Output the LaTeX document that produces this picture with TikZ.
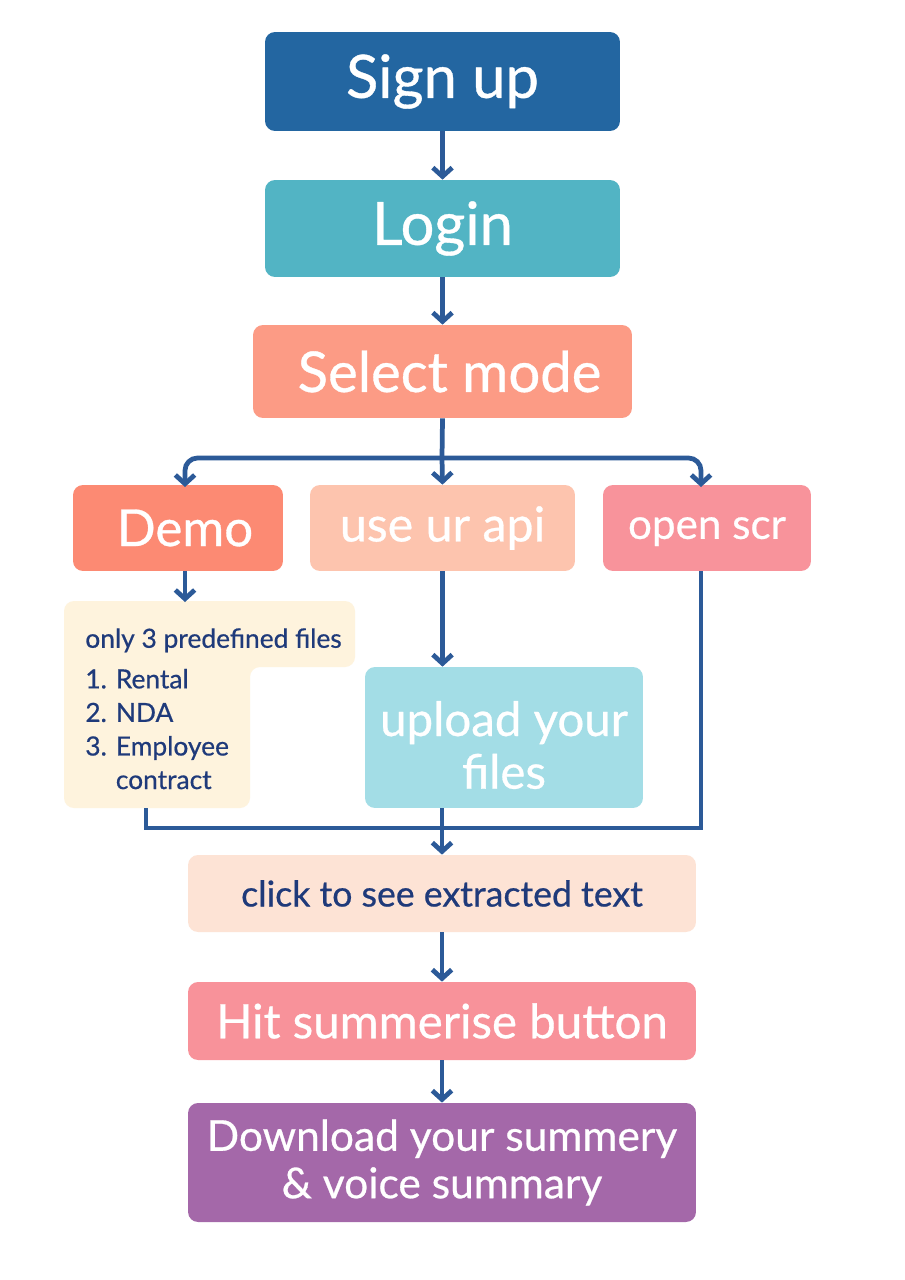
\documentclass[tikz,border=0pt]{standalone}
\usepackage{fontspec}
\setmainfont{Lato}[FakeBold=0.6]
\usetikzlibrary{arrows.meta}

\definecolor{lineblue}{HTML}{2C5A98}
\definecolor{navy}{HTML}{1F3A7A}
\definecolor{signupblue}{HTML}{2366A1}
\definecolor{logincyan}{HTML}{52B4C4}
\definecolor{modesalmon}{HTML}{FC9B85}
\definecolor{demored}{HTML}{FC8A73}
\definecolor{apipeach}{HTML}{FDC4AE}
\definecolor{scrpink}{HTML}{F8939B}
\definecolor{notecream}{HTML}{FEF3DD}
\definecolor{uploadcyan}{HTML}{A3DDE6}
\definecolor{clickpeach}{HTML}{FDE3D5}
\definecolor{hitpink}{HTML}{F8929A}
\definecolor{dlpurple}{HTML}{A468A9}

\newcommand{\fs}[1]{\fontsize{#1}{1.2\dimexpr#1pt\relax}\selectfont}

\begin{document}
\begin{tikzpicture}[x=0.02cm, y=-0.02cm,
  box/.style={rounded corners=0.2cm, inner sep=0pt, align=center, text=white},
  flow/.style={draw=lineblue, line width=2.7pt, -{Straight Barb[length=5pt,width=11pt,line width=2.7pt]}},
  link/.style={draw=lineblue, line width=2.7pt}]

  \useasboundingbox[fill=white] (0,0) rectangle (904,1280);

  % Top of the flow
  \node[box, fill=signupblue, minimum width=7.1cm, minimum height=1.98cm, font=\fs{34}] (signup) at (442.5,81.5) {Sign up};
  \node[box, fill=logincyan, minimum width=7.1cm, minimum height=1.94cm, font=\fs{34}] (login) at (442.5,228.5) {Login};
  \node[box, fill=modesalmon, minimum width=7.58cm, minimum height=1.86cm, font=\fs{32}] (mode) at (442.5,371.5) {\hspace{8pt}Select mode};

  % Three modes
  \node[box, fill=demored, minimum width=4.2cm, minimum height=1.72cm, font=\fs{29}] (demo) at (178,528) {\hspace{8pt}Demo};
  \node[box, fill=apipeach, minimum width=5.3cm, minimum height=1.72cm, font=\fs{27.5}] (api) at (442.5,528) {use ur api};
  \node[box, fill=scrpink, minimum width=4.16cm, minimum height=1.72cm, text depth=0pt, font=\fs{24}] (scr) at (707,528) {open scr};

  % Demo files note
  \fill[notecream, rounded corners=0.2cm]
    (64,601) -- (355,601) -- (355,667) -- (250,667) -- (250,808) -- (64,808) -- cycle;
  \node[anchor=north west, align=left, text=navy, inner sep=0pt, font=\fontsize{15}{19.1}\selectfont] (note) at (85,628)
    {only 3 predefined files\\[4pt]
     1. Rental\\
     2. NDA\\
     3. Employee\\
     \phantom{3. }contract};

  \node[box, fill=uploadcyan, minimum width=5.56cm, minimum height=2.82cm, text height=58.5pt, font=\fontsize{27}{30}\selectfont] (upload) at (504,737.5) {upload your\\files};

  % Bottom of the flow
  \node[box, fill=clickpeach, text=navy, minimum width=10.16cm, minimum height=1.54cm, font=\fs{20.3}] (click) at (442,893.5) {click to see extracted text};
  \node[box, fill=hitpink, minimum width=10.16cm, minimum height=1.56cm, font=\fs{27}] (hit) at (442,1021) {Hit summerise button};
  \node[box, fill=dlpurple, minimum width=10.16cm, minimum height=2.38cm, font=\fontsize{24.2}{27}\selectfont] (dl) at (442,1162.5) {Download your summery\\\& voice summary};

  % Connector points
  \coordinate (split) at (442,458);
  \coordinate (demoin) at (185,487);
  \coordinate (scrin) at (701,487);
  \coordinate (notein) at (185,602);
  \coordinate (noteout) at (146,808);
  \coordinate (join) at (442,828);

  % Connectors
  \draw[flow] (signup.south) -- (login.north);
  \draw[flow] (login.south) -- (mode.north);
  \draw[link] (mode.south) -- (split);
  \draw[flow] (split) -- (api.north);
  \draw[flow, rounded corners=0.25cm] (split) -| (demoin);
  \draw[flow, rounded corners=0.25cm] (split) -| (scrin);
  \draw[flow] (demoin |- demo.south) -- (notein);
  \draw[flow] (api.south) -- (api.south |- upload.north);
  \draw[link] (scrin |- scr.south) |- (join);
  \draw[link] (noteout) |- (join);
  \draw[link] (upload.south -| join) -- (join);
  \draw[flow] (join) -- (click.north);
  \draw[flow] (click.south) -- (hit.north);
  \draw[flow] (hit.south) -- (dl.north);
\end{tikzpicture}
\end{document}
